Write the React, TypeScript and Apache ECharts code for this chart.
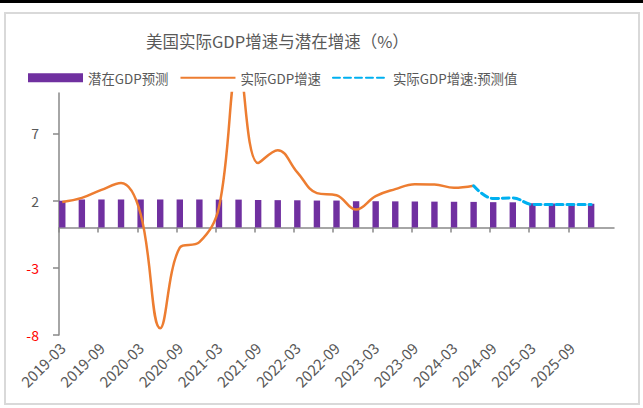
import React, { useEffect, useRef } from "react";
import * as echarts from "echarts";

const quarters = [
  "2019-03", "2019-06", "2019-09", "2019-12",
  "2020-03", "2020-06", "2020-09", "2020-12",
  "2021-03", "2021-06", "2021-09", "2021-12",
  "2022-03", "2022-06", "2022-09", "2022-12",
  "2023-03", "2023-06", "2023-09", "2023-12",
  "2024-03", "2024-06", "2024-09", "2024-12",
  "2025-03", "2025-06", "2025-09", "2025-12",
];
const potentialGdp = [
  1.98, 2.08, 2.08, 2.08, 2.08, 2.08, 2.08, 2.08,
  2.07, 2.07, 2.05, 2.03, 2.02, 2.0, 2.0, 1.95,
  1.95, 1.94, 1.93, 1.92, 1.91, 1.9, 1.88, 1.87,
  1.8, 1.78, 1.77, 1.76,
];
const actualGdp = [
  1.9, 2.2, 2.8, 3.3, 1.0, -7.5, -1.5, -1.1,
  1.5, 12.2, 4.8, 5.75, 4.1, 2.55, 2.4, 1.33,
  2.33, 2.85, 3.22, 3.2, 2.95, 3.1,
];
// forecast starts at 2024-06 (joins the last actual value)
const forecastStart = 21;
const forecastGdp = [3.1, 2.15, 2.2, 1.71, 1.7, 1.7, 1.7];
const xTickLabels = [
  "2019-03", "2019-09", "2020-03", "2020-09", "2021-03", "2021-09", "2022-03",
  "2022-09", "2023-03", "2023-09", "2024-03", "2024-09", "2025-03", "2025-09",
];
const yTicks = [-8, -3, 2, 7];

const MONTHS_PER_Q = 3;
const TOTAL_MONTHS = quarters.length * MONTHS_PER_Q + 1; // 82 months on a date axis
const xOf = (i: number) => i * MONTHS_PER_Q + 0.5;

export default function App() {
  const ref = useRef<HTMLDivElement>(null);
  useEffect(() => {
    if (!ref.current) return;
    const chart = echarts.init(ref.current, undefined, { renderer: "svg" });
    const font = "'Noto Sans CJK SC', 'Noto Sans', sans-serif";
    const textColor = "#595959";
    const axisColor = "#898989";
    const tickVals = xTickLabels.map((_, k) => k * 6);
    chart.setOption({
      animation: false,
      backgroundColor: "#ffffff",
      textStyle: { fontFamily: font },
      title: {
        text: "美国实际GDP增速与潜在增速（%）",
        left: 141,
        top: 28,
        textStyle: { fontFamily: font, fontSize: 16.5, fontWeight: "normal", color: textColor },
      },
      graphic: [
        { type: "rect", shape: { x: 0, y: 0, width: 643, height: 3 }, style: { fill: "#000" }, silent: true },
        {
          type: "rect",
          shape: { x: 5, y: 13, width: 634, height: 391 },
          style: { fill: "none", stroke: "#D9D9D9", lineWidth: 2 },
          silent: true,
        },
      ],
      legend: {
        left: 23,
        top: 66,
        itemWidth: 55,
        itemHeight: 9,
        itemGap: 11,
        textStyle: { fontFamily: font, fontSize: 13.4, color: textColor },
        data: [
          { name: "潜在GDP预测", icon: "rect" },
          { name: "实际GDP增速", itemStyle: { opacity: 0 } },
          { name: "实际GDP增速:预测值", itemStyle: { opacity: 0 } },
        ],
      },
      grid: { left: 59, right: 29, top: 93, bottom: 73, outerBoundsMode: "none" },
      xAxis: [
        {
          type: "value",
          min: 0,
          max: TOTAL_MONTHS,
          axisLine: { show: true, onZero: true, lineStyle: { color: axisColor, width: 1.5 } },
          axisTick: { show: true, length: 5, customValues: tickVals, lineStyle: { color: axisColor, width: 1.5 } },
          axisLabel: { show: false },
          splitLine: { show: false },
        },
        {
          type: "value",
          min: 0,
          max: TOTAL_MONTHS,
          position: "bottom",
          axisLine: { show: false, onZero: false },
          axisTick: { show: false },
          splitLine: { show: false },
          axisLabel: {
            show: true,
            rotate: 45,
            margin: 10,
            fontFamily: font,
            fontSize: 15,
            color: textColor,
            customValues: tickVals.map((v) => v + 0.5),
            formatter: (v: number) => xTickLabels[Math.round((v - 0.5) / 6)] ?? "",
          },
        },
      ],
      yAxis: {
        type: "value",
        min: -8,
        max: 10,
        axisLine: { show: true, onZero: false, lineStyle: { color: axisColor, width: 1.5 } },
        axisTick: { show: true, length: 6, customValues: yTicks, lineStyle: { color: axisColor, width: 1.5 } },
        axisLabel: {
          show: true,
          customValues: yTicks,
          margin: 20,
          fontFamily: font,
          fontSize: 14,
          color: (v: any) => (Number(v) < 0 ? "#FF0000" : textColor),
        },
        splitLine: { show: false },
      },
      series: [
        {
          name: "潜在GDP预测",
          type: "bar",
          xAxisIndex: 0,
          barWidth: 6.4,
          itemStyle: { color: "#7030A0" },
          data: potentialGdp.map((v, i) => [xOf(i), v]),
        },
        {
          name: "实际GDP增速",
          type: "line",
          xAxisIndex: 0,
          smooth: 0.4,
          symbol: "none",
          lineStyle: { color: "#ED7D31", width: 2.5 },
          itemStyle: { color: "#ED7D31" },
          data: actualGdp.map((v, i) => [xOf(i), v]),
          z: 3,
        },
        {
          name: "实际GDP增速:预测值",
          type: "line",
          xAxisIndex: 0,
          smooth: 0.4,
          symbol: "none",
          lineStyle: { color: "#00B0F0", width: 3, type: [7, 4], cap: "round" },
          itemStyle: { color: "#00B0F0" },
          data: forecastGdp.map((v, k) => [xOf(forecastStart + k), v]),
          z: 3,
        },
      ],
    });
    return () => chart.dispose();
  }, []);
  return (
    <div
      ref={ref}
      style={{ position: "absolute", left: 0, top: 0, width: 643, height: 408, background: "#fff" }}
    />
  );
}
